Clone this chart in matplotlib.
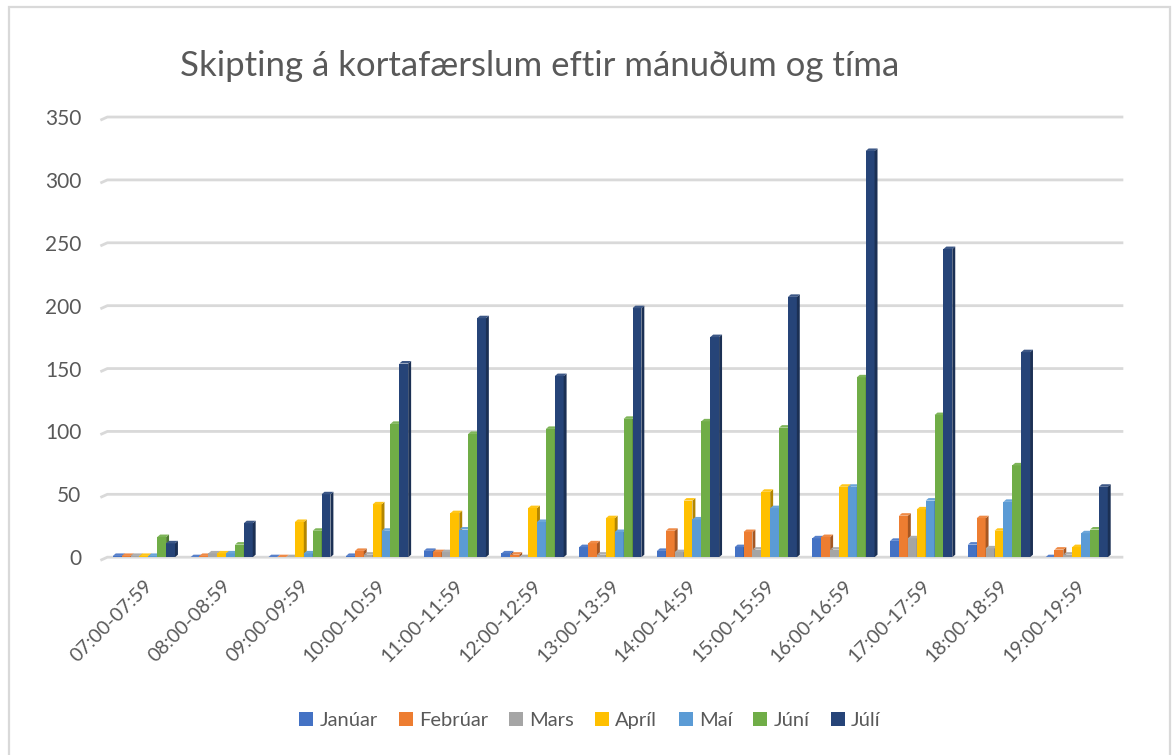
import matplotlib
matplotlib.use("Agg")
import matplotlib.pyplot as plt
import numpy as np
from matplotlib.patches import Polygon, Rectangle
import matplotlib.colors as mcolors

categories = ["07:00-07:59", "08:00-08:59", "09:00-09:59", "10:00-10:59", "11:00-11:59",
              "12:00-12:59", "13:00-13:59", "14:00-14:59", "15:00-15:59", "16:00-16:59",
              "17:00-17:59", "18:00-18:59", "19:00-19:59"]
series_names = ["Janúar", "Febrúar", "Mars", "Apríl", "Maí", "Júní", "Júlí"]
januar  = [1, 0, 0, 1, 5, 3, 8, 5, 8, 15, 13, 10, 0]
februar = [1, 1, 0, 5, 4, 2, 11, 21, 20, 16, 33, 31, 6]
mars    = [1, 3, 0, 2, 4, 0, 2, 4, 6, 6, 15, 7, 2]
april   = [1, 3, 28, 42, 35, 39, 31, 45, 52, 56, 38, 21, 8]
mai     = [1, 3, 3, 21, 22, 28, 20, 30, 39, 56, 45, 44, 19]
juni    = [16, 10, 21, 106, 98, 102, 110, 108, 103, 143, 113, 73, 22]
juli    = [11, 27, 50, 154, 190, 144, 198, 175, 207, 323, 245, 163, 56]
colors = ["#4472C4", "#ED7D31", "#A5A5A5", "#FFC000", "#5B9BD5", "#70AD47", "#264478"]
yticks = [0, 50, 100, 150, 200, 250, 300, 350]

data = [januar, februar, mars, april, mai, juni, juli]
FONT = ["Lato", "DejaVu Sans"]
TXT = "#595959"

fig = plt.figure(figsize=(11.75, 7.55), dpi=100)
fig.patches.append(Rectangle((9 / 1175, -0.01), (1170 - 9) / 1175, 1.01 - 7 / 755,
                             transform=fig.transFigure, fill=False,
                             edgecolor="#d9d9d9", linewidth=1.6))
ax = fig.add_axes([0.0894, 0.262, 0.86, 0.583])

n = len(categories)
m = len(series_names)
x = np.arange(n)
group_w = 0.8
bw = group_w / m
depth_x = bw * 0.33
depth_y = 2.0

# gridlines with a small 3D corner at the left
for t in yticks:
    ax.plot([-0.56, -0.47, n - 0.4], [t - 2.5, t, t], color="#d9d9d9", linewidth=2,
            zorder=1, solid_capstyle="butt", clip_on=False)

for i, (name, vals, c) in enumerate(zip(series_names, data, colors)):
    pos = x - group_w / 2 + bw * (i + 0.5)
    ax.bar(pos, vals, width=bw, color=c, label=name, zorder=3 + i, edgecolor="none")
    dark = np.array(mcolors.to_rgb(c)) * 0.7
    light = np.clip(np.array(mcolors.to_rgb(c)) * 0.9 + 0.1, 0, 1)
    for p, v in zip(pos, vals):
        r = p + bw / 2
        l = p - bw / 2
        side = Polygon([(r, 0), (r + depth_x, depth_y), (r + depth_x, v + depth_y), (r, v)],
                       closed=True, facecolor=dark, edgecolor="none", zorder=3 + i)
        top = Polygon([(l, v), (l + depth_x, v + depth_y), (r + depth_x, v + depth_y), (r, v)],
                      closed=True, facecolor=light, edgecolor="none", zorder=3 + i)
        ax.add_patch(side)
        ax.add_patch(top)

ax.set_xlim(-0.5, n - 0.5)
ax.set_ylim(0, 350)
ax.set_yticks(yticks)
ax.set_yticklabels([str(t) for t in yticks])
for s in ax.spines.values():
    s.set_visible(False)
ax.tick_params(axis="y", length=0, labelsize=15, labelcolor=TXT, pad=17)
ax.tick_params(axis="x", length=0, labelsize=14, labelcolor=TXT, pad=14)
ax.set_xticks(x)
ax.set_xticklabels(categories, rotation=45, ha="right", rotation_mode="anchor")

for lab in ax.get_xticklabels() + ax.get_yticklabels():
    lab.set_family(FONT)

fig.text(0.459, 0.913, "Skipting á kortafærslum eftir mánuðum og tíma", ha="center", va="center",
         fontsize=25, color=TXT, family=FONT)

leg = fig.legend(loc="center", bbox_to_anchor=(0.502, 0.046), ncol=7, frameon=False,
                 handlelength=0.7, handleheight=0.7, handletextpad=0.3,
                 columnspacing=1.05, prop={"family": FONT, "size": 14.5})
for t in leg.get_texts():
    t.set_color(TXT)

fig.savefig("out.png", dpi=100)
